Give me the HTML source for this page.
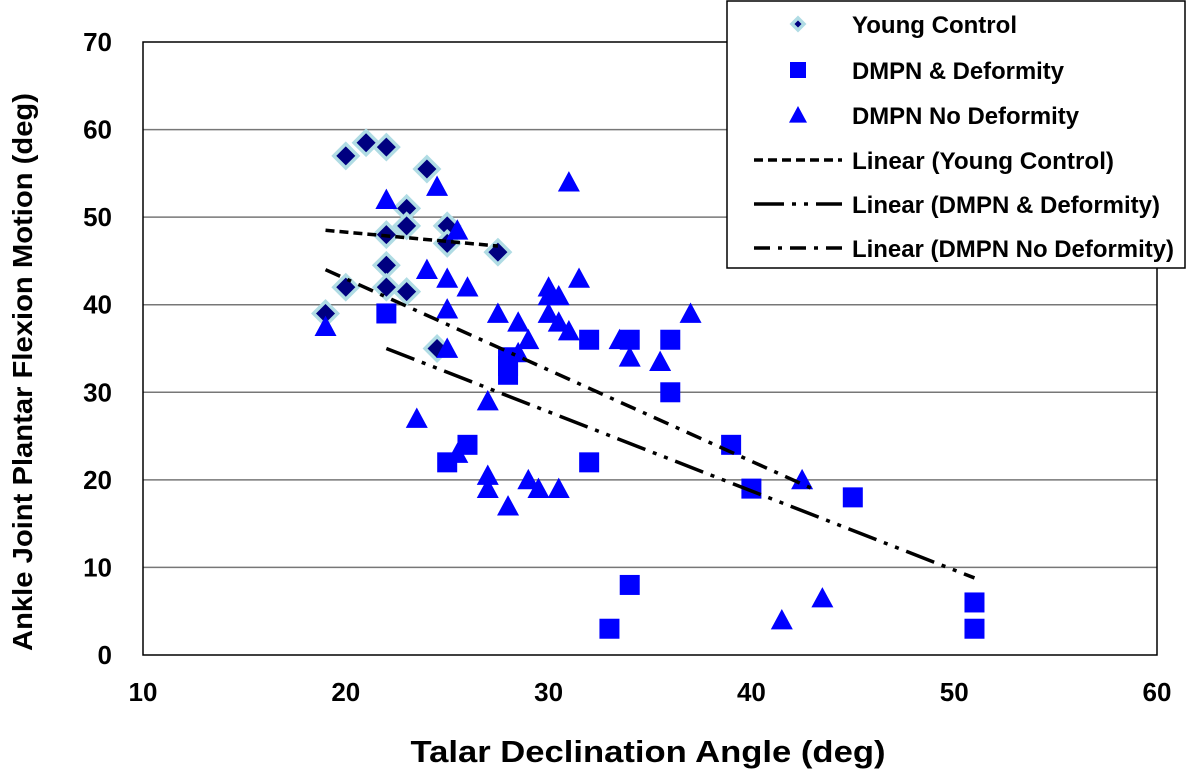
<!DOCTYPE html>
<html><head><meta charset="utf-8"><style>
body{margin:0;background:#fff;}
svg text{font-family:"Liberation Sans",Arial,sans-serif;font-weight:bold;fill:#000;}
</style></head><body>
<svg id="chart" width="1200" height="775" viewBox="0 0 1200 775" xmlns="http://www.w3.org/2000/svg">
<g id="grid"></g><g id="marks"></g><g id="axes"></g><g id="legend"></g>
</svg>
<script>
const xTicks=[10,20,30,40,50,60];
const yTicks=[0,10,20,30,40,50,60,70];
const youngX=[19,20,20,21,22,22,22,22,23,23,23,24,24.5,25,25,27.5];
const youngY=[39,57,42,58.5,58,48,44.5,42,51,49,41.5,55.5,35,49,47,46];
const defX=[22,25,26,28,28,28,32,32,33,34,34,36,36,39,40,45,51,51];
const defY=[39,22,24,34,33,32,36,22,3,36,8,36,30,24,19,18,6,3];
const noDefX=[19,22,23.5,24,24.5,25,25,25,25.5,25.5,26,27,27,27,27.5,28,28.5,28.5,29,29,29.5,30,30,30,30.5,30.5,30.5,31,31,31.5,33.5,34,35.5,37,41.5,42.5,43.5];
const noDefY=[37.5,52,27,44,53.5,43,39.5,35,48.5,23,42,29,20.5,19,39,17,38,34.5,36,20,19,42,41,39,41,38,19,37,54,43,36,34,33.5,39,4,20,6.5];
const trendYoung=[[19,48.5],[27.5,46.7]];
const trendDef=[[22,35],[51,8.8]];
const trendNoDef=[[19,44],[43,19]];
const NS="http://www.w3.org/2000/svg";
const L=143,R=1157,T=42,B=655;
const sx=v=>L+(v-10)/50*(R-L);
const sy=v=>B-v/70*(B-T);
function mk(tag,attrs,parent){const e=document.createElementNS(NS,tag);for(const k in attrs)e.setAttribute(k,attrs[k]);document.getElementById(parent).appendChild(e);return e;}
yTicks.forEach(t=>{
 if(t>0&&t<70){const g=mk('line',{x1:L,x2:R,y1:sy(t),y2:sy(t),stroke:'#777','stroke-width':1.5},'grid');
 
 }
 const tx=mk('text',{x:112,y:sy(t)+9,'text-anchor':'end','font-size':26},'axes');tx.textContent=t;
 
 
});
xTicks.forEach(t=>{
 const tx=mk('text',{x:sx(t),y:701,'text-anchor':'middle','font-size':26},'axes');tx.textContent=t;
 
 
});
const box=mk('rect',{x:L,y:T,width:R-L,height:B-T,fill:'none',stroke:'#000','stroke-width':1.5},'axes');


const xt=mk('text',{x:648,y:762,'text-anchor':'middle','font-size':31,textLength:475,lengthAdjust:'spacingAndGlyphs'},'axes');xt.textContent='Talar Declination Angle (deg)';


const yt=mk('text',{x:0,y:0,'text-anchor':'middle','font-size':28,textLength:558,lengthAdjust:'spacingAndGlyphs',transform:'translate(32,372) rotate(-90)'},'axes');yt.textContent='Ankle Joint Plantar Flexion Motion (deg)';


const dashDef='30,8,4,8,4,8', dashNoDef='16,8,4,8', dashYoung='9,5';
function trend(p,dash,name){const l=mk('line',{x1:sx(p[0][0]),y1:sy(p[0][1]),x2:sx(p[1][0]),y2:sy(p[1][1]),stroke:'#000','stroke-width':3.5,'stroke-dasharray':dash},'marks');
 
 }
function diamond(cx,cy,s,par){return mk('polygon',{points:`${cx},${cy-s} ${cx+s},${cy} ${cx},${cy+s} ${cx-s},${cy}`,fill:'#000080',stroke:'#b0dce4','stroke-width':3.5},par);}
function square(cx,cy,s,par){return mk('rect',{x:cx-s,y:cy-s,width:2*s,height:2*s,fill:'#0000ff'},par);}
function tri(cx,cy,s,par){return mk('polygon',{points:`${cx},${cy-s} ${cx+s},${cy+s*0.85} ${cx-s},${cy+s*0.85}`,fill:'#0000ff'},par);}
youngX.forEach((x,i)=>{const e=diamond(sx(x),sy(youngY[i]),12,'marks');
 
 });
defX.forEach((x,i)=>{const e=square(sx(x),sy(defY[i]),10,'marks');
 
 });
noDefX.forEach((x,i)=>{const e=tri(sx(x),sy(noDefY[i]),11,'marks');
 
 });
trend(trendYoung,dashYoung,'trend-young-control');
trend(trendDef,dashDef,'trend-dmpn-deformity');
trend(trendNoDef,dashNoDef,'trend-dmpn-no-deformity');
const lb=mk('rect',{x:727,y:1,width:458,height:267,fill:'#fff',stroke:'#000','stroke-width':1.5},'legend');


const labels=['Young Control','DMPN & Deformity','DMPN No Deformity','Linear (Young Control)','Linear (DMPN & Deformity)','Linear (DMPN No Deformity)'];
const lw=[165,212,227,262,308,322];
const ly=[24,70,115,160,204,248];
labels.forEach((t,i)=>{
 let e;
 if(i===0)e=diamond(798,ly[i],6,'legend');
 else if(i===1)e=square(798,ly[i],8,'legend');
 else if(i===2)e=tri(798,ly[i],9,'legend');
 else e=mk('line',{x1:754,x2:842,y1:ly[i],y2:ly[i],stroke:'#000','stroke-width':3.5,'stroke-dasharray':[dashYoung,dashDef,dashNoDef][i-3]},'legend');
 
 
 const tx=mk('text',{x:852,y:ly[i]+9,'font-size':24,textLength:lw[i],lengthAdjust:'spacingAndGlyphs'},'legend');tx.textContent=t;
 
 
});
</script>
</body></html>
